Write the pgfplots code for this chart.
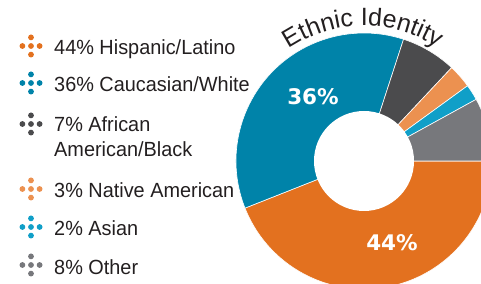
\documentclass[border=0pt]{standalone}
\usepackage{pgfplots}
\pgfplotsset{compat=1.18}
\usepackage{fontspec}
\setmainfont{Liberation Sans}
\newfontfamily\legfont{Liberation Sans}[FakeStretch=0.97]
\newfontfamily\pctfont{DejaVu Sans}
\usetikzlibrary{decorations.text}
\definecolor{hisp}{HTML}{E3711F}
\definecolor{cauc}{HTML}{0083A9}
\definecolor{afr}{HTML}{4B4B4D}
\definecolor{nat}{HTML}{EC9150}
\definecolor{asi}{HTML}{109FC8}
\definecolor{oth}{HTML}{77787C}
\definecolor{txt}{HTML}{231F20}
\newcommand\titlefont{\fontsize{25bp}{28bp}\selectfont}
\newcommand\legsize{\legfont\fontsize{20.5bp}{24bp}\selectfont}
\newcommand\pctsize{\pctfont\bfseries\fontsize{21.5bp}{24bp}\selectfont}
% ethnic identity shares (percent) / colour
\def\slices{44/hisp,36/cauc,7/afr,3/nat,2/asi,8/oth}
\newcommand\icon[2]{%
  \fill[#1] (axis cs:31,#2) circle[radius=2.9bp];
  \fill[#1] ([yshift=8.6bp]axis cs:31,#2) circle[radius=2.9bp];
  \fill[#1] ([yshift=-8.6bp]axis cs:31,#2) circle[radius=2.9bp];
  \fill[#1] ([xshift=8.6bp]axis cs:31,#2) circle[radius=2.9bp];
  \fill[#1] ([xshift=-8.6bp]axis cs:31,#2) circle[radius=2.9bp];
}
\begin{document}
\begin{tikzpicture}
\path[use as bounding box] (0,0) rectangle (481bp,284bp);
\begin{axis}[at={(0,0)}, anchor=south west, scale only axis,
  width=481bp, height=284bp, xmin=0, xmax=481, ymin=0, ymax=284,
  hide axis, clip=true]
\gdef\cur{0}
\foreach \v/\col in \slices {
  \pgfmathsetmacro\endang{\cur-3.6*\v}
  \edef\temp{\noexpand\fill[\col, draw=white, line width=0.6bp] (axis cs:364,123) -- ++(\cur:128bp) arc[start angle=\cur, end angle=\endang, radius=128bp] -- cycle;}
  \temp
  \xdef\cur{\endang}
}
\fill[white] (axis cs:364,123) circle[radius=50bp];
\node[text=white, font=\pctsize] at (axis cs:313,187) {36\%};
\node[text=white, font=\pctsize] at (axis cs:392,41) {44\%};
\path[decorate, decoration={text along path, text={|\titlefont|Ethnic Identity}, text align=center, text color=txt}]
  (axis cs:286.6,233.6) arc[start angle=125, end angle=56, radius=135bp];
% legend
\icon{hisp}{238}
\icon{cauc}{201}
\icon{afr}{160}
\icon{nat}{95}
\icon{asi}{57}
\icon{oth}{19}
\node[anchor=base west, inner sep=0, font=\legsize, text=txt] at (axis cs:54,229) {44\% Hispanic/Latino};
\node[anchor=base west, inner sep=0, font=\legsize, text=txt] at (axis cs:54,192) {36\% Caucasian/White};
\node[anchor=base west, inner sep=0, font=\legsize, text=txt] at (axis cs:54,152) {7\% African};
\node[anchor=base west, inner sep=0, font=\legsize, text=txt] at (axis cs:54,127) {American/Black};
\node[anchor=base west, inner sep=0, font=\legsize, text=txt] at (axis cs:54,86) {3\% Native American};
\node[anchor=base west, inner sep=0, font=\legsize, text=txt] at (axis cs:54,48) {2\% Asian};
\node[anchor=base west, inner sep=0, font=\legsize, text=txt] at (axis cs:54,10) {8\% Other};
\end{axis}
\end{tikzpicture}
\end{document}
